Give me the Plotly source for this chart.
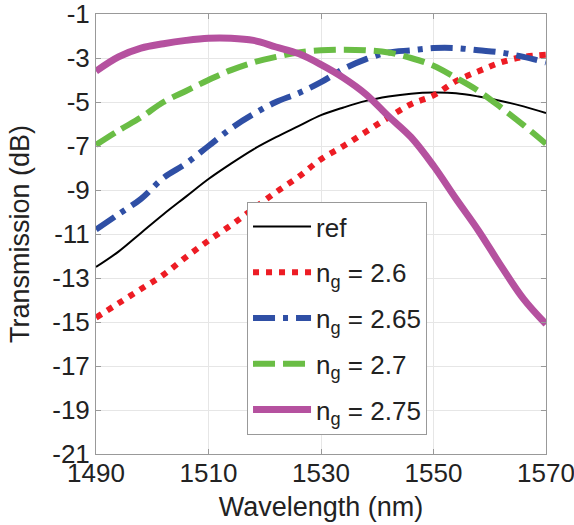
import plotly.graph_objects as go

wavelength = [1490, 1494, 1498, 1502, 1506, 1510, 1514, 1518, 1522, 1526, 1530,
              1534, 1538, 1542, 1546, 1550, 1554, 1558, 1562, 1566, 1570]

ref = [-12.5, -11.8, -10.95, -10.1, -9.3, -8.5, -7.8, -7.15, -6.6, -6.1, -5.6,
       -5.25, -4.95, -4.75, -4.62, -4.57, -4.6, -4.75, -4.95, -5.2, -5.5]
ng_260 = [-14.8, -14.15, -13.5, -12.85, -12.05, -11.3, -10.6, -9.85, -9.1, -8.4, -7.6,
          -7.0, -6.35, -5.7, -5.1, -4.7, -4.05, -3.6, -3.2, -2.95, -2.85]
ng_265 = [-10.8, -10.1, -9.4, -8.45, -7.8, -7.0, -6.2, -5.55, -5.0, -4.6, -4.1,
          -3.5, -3.05, -2.75, -2.65, -2.55, -2.55, -2.65, -2.75, -2.95, -3.2]
ng_270 = [-6.95, -6.3, -5.7, -5.0, -4.5, -4.0, -3.55, -3.2, -2.95, -2.75, -2.65,
          -2.62, -2.65, -2.75, -3.0, -3.35, -3.9, -4.5, -5.25, -6.05, -6.9]
ng_275 = [-3.6, -2.95, -2.55, -2.35, -2.2, -2.1, -2.1, -2.2, -2.5, -2.8, -3.3,
          -3.9, -4.65, -5.65, -6.6, -7.9, -9.4, -10.85, -12.45, -13.95, -15.1]

names = ["ref", "n<sub>g</sub> = 2.6", "n<sub>g</sub> = 2.65",
         "n<sub>g</sub> = 2.7", "n<sub>g</sub> = 2.75"]

x_tickvals = [1490, 1510, 1530, 1550, 1570]
x_ticktext = ["1490", "1510", "1530", "1550", "1570"]
y_tickvals = [-1, -3, -5, -7, -9, -11, -13, -15, -17, -19, -21]
y_ticktext = ["-1", "-3", "-5", "-7", "-9", "-11", "-13", "-15", "-17", "-19", "-21"]

series = [ref, ng_260, ng_265, ng_270, ng_275]
colors = ["#000000", "#ED1C24", "#2F4FA5", "#6ABD45", "#B5519F"]
widths = [2, 6, 6, 6, 7]
dashes = ["solid", "6px,7px", "22px,8px,5px,8px", "22px,8px", "solid"]

fig = go.Figure()
for i, (nm, ys) in enumerate(zip(names, series)):
    fig.add_trace(go.Scatter(
        x=wavelength, y=ys, mode="lines", name=nm, legendgroup="g%d" % i,
        line=dict(color=colors[i], width=widths[i], dash=dashes[i], shape="spline"),
    ))

font_family = "Liberation Sans, Arial, sans-serif"
fig.update_layout(
    width=574, height=525,
    margin=dict(l=96, r=28, t=14, b=71, autoexpand=False),
    paper_bgcolor="white", plot_bgcolor="white",
    font=dict(family=font_family, size=26, color="#222222"),
    showlegend=True,
    legend=dict(
        x=0.3356, y=0.5727, xanchor="left", yanchor="top",
        bgcolor="white", bordercolor="#999999", borderwidth=1,
        font=dict(family=font_family, size=26, color="#222222"),
        itemwidth=58, tracegroupgap=9,
    ),
)
fig.update_xaxes(
    range=[1490, 1570], tickvals=x_tickvals, ticktext=x_ticktext,
    showgrid=True, gridcolor="#e6e6e6", gridwidth=1,
    showline=True, linecolor="#999999", linewidth=1, mirror="ticks",
    ticks="inside", ticklen=5, tickcolor="#999999",
    zeroline=False, ticklabeloverflow="allow", ticklabelstandoff=-4,
    automargin=False,
    title=dict(text="Wavelength (nm)", font=dict(size=27), standoff=9),
    tickfont=dict(size=26),
)
fig.update_yaxes(
    range=[-21, -1], tickvals=y_tickvals, ticktext=y_ticktext,
    showgrid=True, gridcolor="#e6e6e6", gridwidth=1,
    showline=True, linecolor="#999999", linewidth=1, mirror="ticks",
    ticks="inside", ticklen=5, tickcolor="#999999",
    zeroline=False, ticklabeloverflow="allow", automargin=False,
    title=dict(text="Transmission (dB)", font=dict(size=27), standoff=14),
    tickfont=dict(size=26),
)

fig.write_html(
    "out.html",
    config={"displayModeBar": False},
    post_script="document.body.style.margin='0';document.body.style.overflow='hidden';",
)
